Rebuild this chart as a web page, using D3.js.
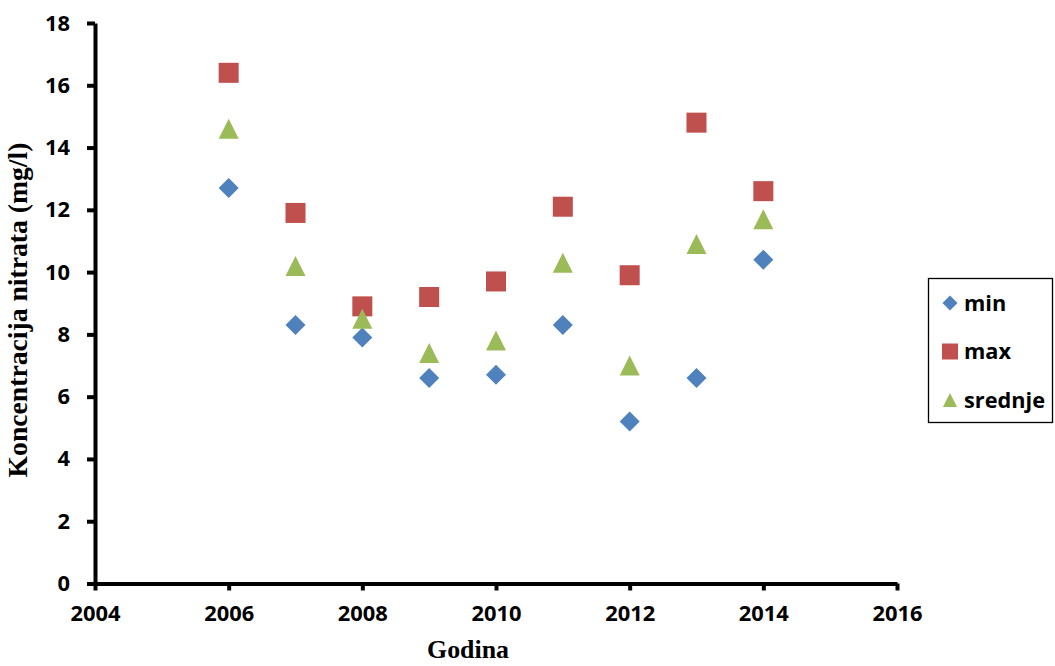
<!DOCTYPE html>
<html>
<head>
<meta charset="utf-8">
<script src="https://cdn.jsdelivr.net/npm/d3@7"></script>
<style>
  html, body { margin: 0; padding: 0; background: #fff; }
  svg { display: block; }
</style>
</head>
<body>
<svg id="chart" width="1055" height="666"></svg>
<script>
// Godišnje vrijednosti koncentracije nitrata (mg/l)
const years = [2006, 2007, 2008, 2009, 2010, 2011, 2012, 2013, 2014];
const minValues = [12.7, 8.3, 7.9, 6.6, 6.7, 8.3, 5.2, 6.6, 10.4];
const maxValues = [16.4, 11.9, 8.9, 9.2, 9.7, 12.1, 9.9, 14.8, 12.6];
const meanValues = [14.6, 10.2, 8.5, 7.4, 7.8, 10.3, 7.0, 10.9, 11.7];
const xTicks = [2004, 2006, 2008, 2010, 2012, 2014, 2016];
const yTicks = [0, 2, 4, 6, 8, 10, 12, 14, 16, 18];
const seriesNames = ["min", "max", "srednje"];

const colors = { min: "#4F81BD", max: "#C0504D", srednje: "#9BBB59" };

// Triangle whose bounding box is centred on the point (height = base)
const boxTriangle = {
  draw(ctx, size) {
    const h = Math.sqrt(size);
    ctx.moveTo(0, -h / 2);
    ctx.lineTo(h / 2, h / 2);
    ctx.lineTo(-h / 2, h / 2);
    ctx.closePath();
  }
};
const shapes = { min: d3.symbolDiamond2, max: d3.symbolSquare2, srednje: boxTriangle };

const series = [
  { name: "min", values: minValues },
  { name: "max", values: maxValues },
  { name: "srednje", values: meanValues }
];

const svg = d3.select("#chart");
const plotLeft = 95, plotRight = 897, plotTop = 23, plotBottom = 583.5;

const x = d3.scaleLinear().domain([2004, 2016]).range([plotLeft, plotRight]);
const y = d3.scaleLinear().domain([0, 18]).range([plotBottom, plotTop]);

const tickFont = "'Open Sans', Lato, sans-serif";
const titleFont = "'Liberation Serif', 'Times New Roman', serif";

// Scale a text element's font so that it spans the given width
function fitWidth(sel, width) {
  sel.each(function () {
    const fs = parseFloat(getComputedStyle(this).fontSize);
    const w = this.getComputedTextLength();
    if (w > 0) d3.select(this).style("font-size", (fs * width / w).toFixed(2) + "px");
  });
}

// Y axis
const yAxis = svg.append("g")
  .attr("transform", `translate(${plotLeft},0)`)
  .call(d3.axisLeft(y).tickValues(yTicks).tickSize(8).tickSizeOuter(0).tickPadding(17).tickFormat(d3.format("d")));

// X axis
const xAxis = svg.append("g")
  .attr("transform", `translate(0,${plotBottom})`)
  .call(d3.axisBottom(x).tickValues(xTicks).tickSize(7).tickSizeOuter(0).tickPadding(15).tickFormat(d3.format("d")));

[yAxis, xAxis].forEach(g => {
  g.select(".domain").attr("stroke", "#000").attr("stroke-width", 4);
  g.selectAll(".tick line").attr("stroke", "#000").attr("stroke-width", 4);
  g.selectAll(".tick text")
    .attr("fill", "#000")
    .style("font-family", tickFont)
    .style("font-weight", "bold")
    .style("font-size", "20px");
});
// Year labels are about 50px wide; apply the same size to the value labels
const xLabel = xAxis.select(".tick text").node();
const labelSize = parseFloat(getComputedStyle(xLabel).fontSize) * 50 / xLabel.getComputedTextLength();
svg.selectAll(".tick text").style("font-size", labelSize.toFixed(2) + "px");

// Data markers
const symbolSize = { min: 255, max: 510, srednje: 400 };
series.forEach(s => {
  svg.append("g")
    .selectAll("path")
    .data(years.map((yr, i) => ({ yr, v: s.values[i] })))
    .join("path")
    .attr("transform", d => `translate(${x(d.yr)},${y(d.v)})`)
    .attr("d", d3.symbol().type(shapes[s.name]).size(symbolSize[s.name]))
    .attr("fill", colors[s.name]);
});

// Axis titles
svg.append("text")
  .attr("transform", `translate(27,310) rotate(-90)`)
  .attr("text-anchor", "middle")
  .style("font-family", titleFont)
  .style("font-weight", "bold")
  .style("font-size", "22px")
  .text("Koncentracija nitrata (mg/l)")
  .call(fitWidth, 335);

svg.append("text")
  .attr("x", 468)
  .attr("y", 658)
  .attr("text-anchor", "middle")
  .style("font-family", titleFont)
  .style("font-weight", "bold")
  .style("font-size", "22px")
  .text("Godina")
  .call(fitWidth, 82);

// Legend
const legend = svg.append("g");
legend.append("rect")
  .attr("x", 928.5).attr("y", 278.5)
  .attr("width", 124).attr("height", 144)
  .attr("fill", "#fff").attr("stroke", "#000").attr("stroke-width", 1.3);

const legendY = d3.scalePoint().domain(seriesNames).range([303, 400]);
const legendSize = { min: 143, max: 326, srednje: 200 };
const legendTexts = [];
seriesNames.forEach(name => {
  const ly = legendY(name);
  legend.append("path")
    .attr("transform", `translate(950,${ly})`)
    .attr("d", d3.symbol().type(shapes[name]).size(legendSize[name]))
    .attr("fill", colors[name]);
  legendTexts.push(legend.append("text")
    .attr("x", 964).attr("y", ly)
    .attr("dy", "0.35em")
    .style("font-family", tickFont)
    .style("font-weight", "bold")
    .style("font-size", "20px")
    .text(name));
});
// "srednje" spans about 81px; use that size for all legend entries
const sNode = legendTexts[2].node();
const legendFont = 20 * 81 / sNode.getComputedTextLength();
legendTexts.forEach(t => t.style("font-size", legendFont.toFixed(2) + "px"));
</script>
</body>
</html>
